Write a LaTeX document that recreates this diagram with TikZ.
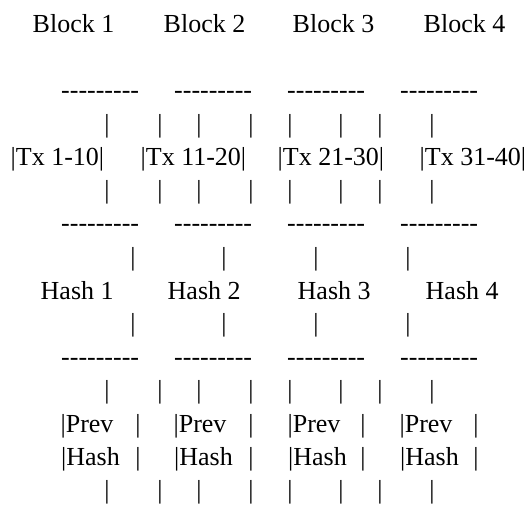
\documentclass[tikz,border=0pt]{standalone}
\usepackage{fontspec}
\setmainfont{Liberation Serif}
\newcommand\dashrow{-{}-{}-{}-{}-{}-{}-{}-{}-}
\tikzset{
  txt/.style={inner sep=0pt, anchor=base west, font=\fontsize{26}{31}\selectfont},
  bar/.style={inner sep=0pt, anchor=base, font=\fontsize{26}{31}\selectfont},
}
\begin{document}
\begin{tikzpicture}[x=1pt,y=1pt]
\useasboundingbox (0,0) rectangle (529,-523);
% block titles
\node[txt] (b1) at (32.5,-32) {Block 1};
\node[txt] (b2) at (163.5,-32) {Block 2};
\node[txt] (b3) at (292.5,-32) {Block 3};
\node[txt] (b4) at (423.5,-32) {Block 4};
% dash rows
\foreach \y/\r in {98.6/a,231.8/b,365/c}{
  \node[txt] (d\r1) at (61,-\y) {\dashrow};
  \node[txt] (d\r2) at (174,-\y) {\dashrow};
  \node[txt] (d\r3) at (287,-\y) {\dashrow};
  \node[txt] (d\r4) at (400,-\y) {\dashrow};
}
% wide bar rows
\foreach \y/\r in {132/a,198.5/b,398/c,498/d}{
  \foreach \x [count=\i] in {107,160,199,251,290,341,380,432}{
    \node[bar] (w\r\i) at (\x,-\y) {|};
  }
}
% tx row
\node[txt] (t1) at (10.5,-165.5) {|Tx 1-10|};
\node[txt] (t2) at (140.5,-165.5) {|Tx 11-20|};
\node[txt] (t3) at (277.5,-165.5) {|Tx 21-30|};
\node[txt] (t4) at (419.5,-165.5) {|Tx 31-40|};
% narrow bar rows
\foreach \y/\r in {265/a,331.7/b}{
  \foreach \x [count=\i] in {133,224,316,408}{
    \node[bar] (n\r\i) at (\x,-\y) {|};
  }
}
% hash row
\node[txt] (h1) at (40.5,-299) {Hash 1};
\node[txt] (h2) at (167.5,-299) {Hash 2};
\node[txt] (h3) at (297.5,-299) {Hash 3};
\node[txt] (h4) at (425.5,-299) {Hash 4};
% prev hash boxes
\foreach \x/\b [count=\i] in {60.4/138,173.4/251,287.4/363,399.4/476}{
  \node[txt] (p\i) at (\x,-432) {|Prev};
  \node[bar] (pb\i) at (\b,-432) {|};
  \node[txt] (q\i) at (\x+0.6,-465) {|Hash};
  \node[bar] (qb\i) at (\b,-465) {|};
}
\end{tikzpicture}
\end{document}
